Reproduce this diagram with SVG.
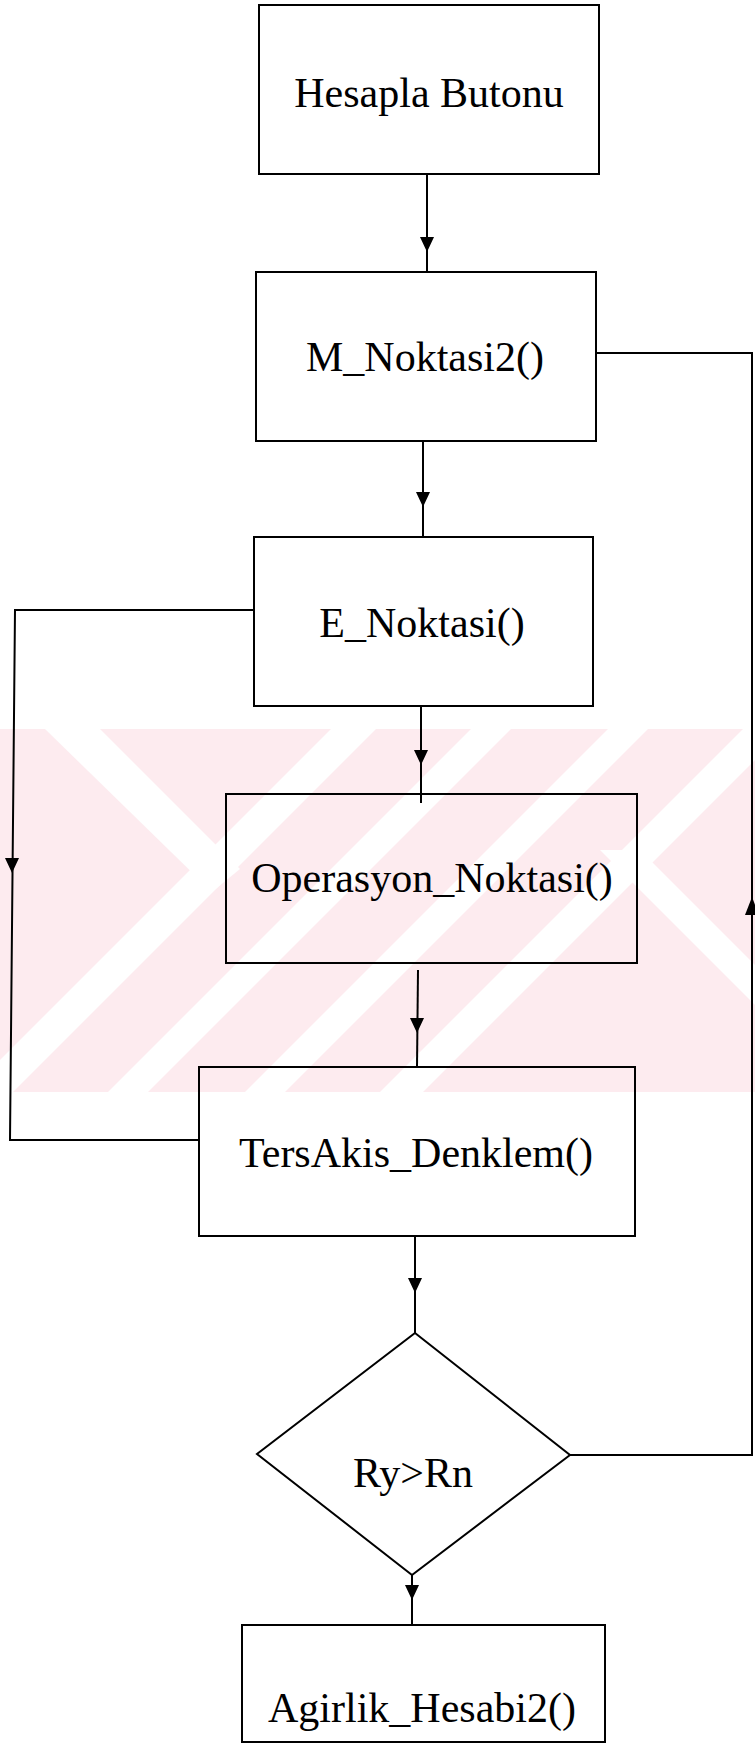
<svg xmlns="http://www.w3.org/2000/svg" width="755" height="1744" viewBox="0 0 755 1744">
<style>
.box{fill:none;stroke:#000;stroke-width:2}
.ln{fill:none;stroke:#000;stroke-width:2}
.ah{fill:#000;stroke:none}
.t{font-family:"Liberation Serif","Times New Roman",serif;font-size:42px;fill:#000;text-anchor:middle}
.wm{fill:#fff}
</style>
<defs>
<clipPath id="wmclip"><rect x="0" y="729" width="755" height="363"/></clipPath>
</defs>
<rect width="755" height="1744" fill="#fff"/>
<g id="watermark" clip-path="url(#wmclip)">
<rect x="0" y="729" width="755" height="363" fill="#fdebef"/>
<polygon class="wm" points="1060,0 1105,0 0,1105 0,1060"/>
<polygon class="wm" points="1200,0 1240,0 0,1240 0,1200"/>
<polygon class="wm" points="1337,0 1377,0 0,1377 0,1337"/>
<polygon class="wm" points="1472,0 1515,0 0,1515 0,1472"/>
<polygon class="wm" points="45,729 100,729 240,869 212,892"/>
<polygon class="wm" points="600,850 640,850 800,1010 760,1010"/>
</g>
<g id="connectors">
<line class="ln" x1="427" y1="174" x2="427" y2="272"/>
<polygon class="ah" points="420,237 434,237 427,252"/>
<line class="ln" x1="423" y1="441" x2="423" y2="537"/>
<polygon class="ah" points="416,492 430,492 423,507"/>
<line class="ln" x1="421" y1="706" x2="421" y2="803"/>
<polygon class="ah" points="414,750 428,750 421,765"/>
<line class="ln" x1="418" y1="970" x2="417" y2="1067"/>
<polygon class="ah" points="410,1018 424,1018 417,1033"/>
<line class="ln" x1="415" y1="1236" x2="415" y2="1333"/>
<polygon class="ah" points="408,1278 422,1278 415,1293"/>
<line class="ln" x1="412" y1="1575" x2="412" y2="1625"/>
<polygon class="ah" points="405,1585 419,1585 412,1600"/>
<polyline class="ln" points="254,610 15,610 10,1140 199,1140"/>
<polygon class="ah" points="5,858 19,858 12,873"/>
<polyline class="ln" points="570,1455 752,1455 752,353 596,353"/>
<polygon class="ah" points="745,915 759,915 752,897"/>
</g>
<g id="n1"><rect class="box" x="259" y="5" width="340" height="169"/><text class="t" x="429" y="107">Hesapla Butonu</text></g>
<g id="n2"><rect class="box" x="256" y="272" width="340" height="169"/><text class="t" x="425" y="371">M_Noktasi2()</text></g>
<g id="n3"><rect class="box" x="254" y="537" width="339" height="169"/><text class="t" x="422" y="637">E_Noktasi()</text></g>
<g id="n4"><rect class="box" x="226" y="794" width="411" height="169"/><text class="t" x="432" y="892">Operasyon_Noktasi()</text></g>
<g id="n5"><rect class="box" x="199" y="1067" width="436" height="169"/><text class="t" x="416" y="1167">TersAkis_Denklem()</text></g>
<g id="n6"><polygon class="box" points="415,1333 570,1455 412,1575 257,1454"/><text class="t" x="413" y="1487">Ry&gt;Rn</text></g>
<g id="n7"><rect class="box" x="242" y="1625" width="363" height="117"/><text class="t" x="422" y="1722">Agirlik_Hesabi2()</text></g>
</svg>
